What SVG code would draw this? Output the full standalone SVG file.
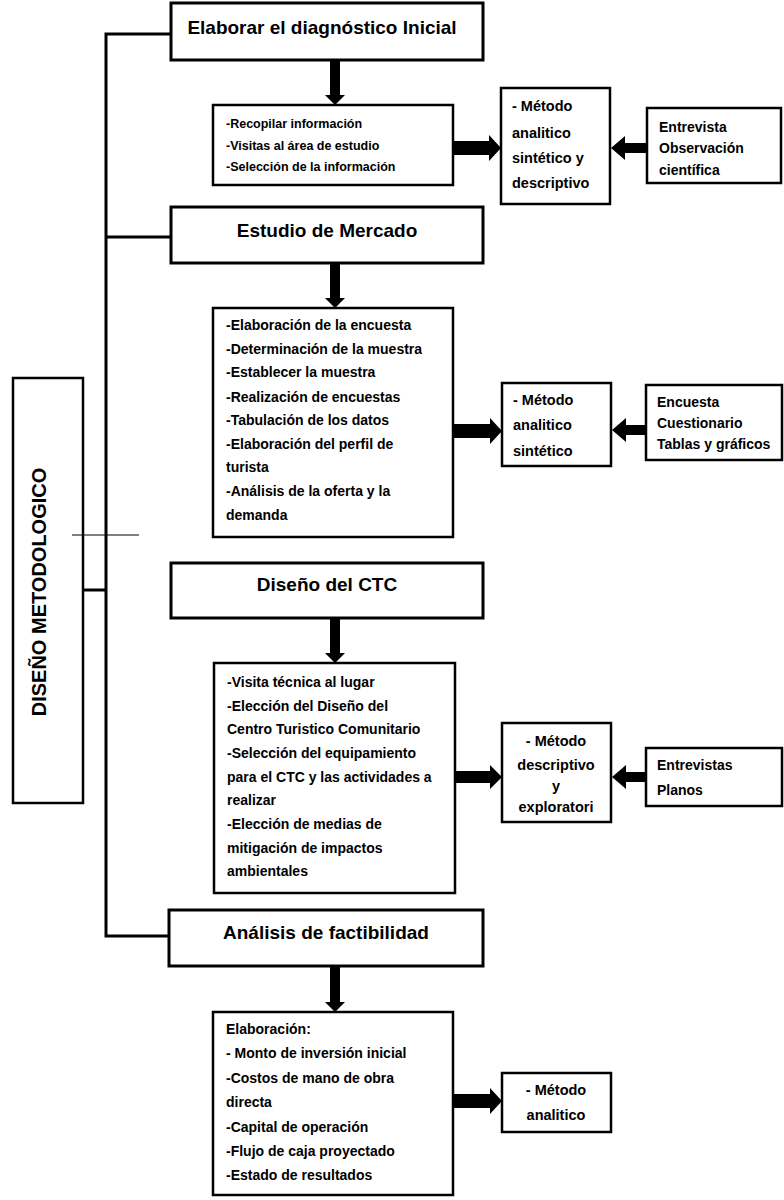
<svg xmlns="http://www.w3.org/2000/svg" width="784" height="1200" viewBox="0 0 784 1200">
<style>
.box{fill:#fff;stroke:#000;stroke-width:2.5}
.hbox{fill:#fff;stroke:#000;stroke-width:3}
.ln{stroke:#000;stroke-width:3;fill:none}
.thin{stroke:#000;stroke-width:1;fill:none}
.arr{fill:#000}
text{font-family:"Liberation Sans",Arial,sans-serif;font-weight:bold;fill:#000}
.h{font-size:19px;text-anchor:middle}
.t{font-size:14px}
.s{font-size:12.5px}
.m{font-size:14.5px}
.mc{font-size:14.5px;text-anchor:middle}
</style>
<rect width="784" height="1200" fill="#fff"/>
<g id="connectors">
<polyline class="ln" points="171,34 106,34 106,936 170,936"/>
<line class="ln" x1="106" y1="237" x2="171" y2="237"/>
<line class="ln" x1="83" y1="590" x2="106" y2="590"/>
<polygon class="arr" points="330,60 340,60 340,95 345,95 335,105 325,95 330,95"/>
<polygon class="arr" points="330,263 340,263 340,298 345,298 335,308 325,298 330,298"/>
<polygon class="arr" points="330,618 340,618 340,653 345,653 335,663 325,653 330,653"/>
<polygon class="arr" points="330,966 340,966 340,1002 345,1002 335,1012 325,1002 330,1002"/>
<polygon class="arr" points="453,141 489,141 489,135 501,148 489,161 489,155 453,155"/>
<polygon class="arr" points="453,424 490,424 490,418 502,431 490,444 490,438 453,438"/>
<polygon class="arr" points="455,771 490,771 490,765 502,777 490,789 490,783 455,783"/>
<polygon class="arr" points="453,1094 490,1094 490,1088 502,1101 490,1114 490,1108 453,1108"/>
<polygon class="arr" points="647,143 625,143 625,136 611,148 625,160 625,153 647,153"/>
<polygon class="arr" points="646,425 626,425 626,418 612,430 626,442 626,435 646,435"/>
<polygon class="arr" points="646,772 626,772 626,765 612,777 626,789 626,782 646,782"/>
</g>
<g id="n-diseno">
<rect class="box" x="13" y="378" width="70" height="425"/>
<text style="font-size:20px;text-anchor:middle" transform="translate(46,592) rotate(-90)">DISEÑO METODOLOGICO</text>
</g>
<line class="thin" x1="72" y1="535" x2="139" y2="535"/>
<g id="n-h1">
<rect class="hbox" x="171" y="3" width="312" height="57"/>
<text class="h" x="322" y="34">Elaborar el diagnóstico Inicial</text>
</g>
<g id="n-b1">
<rect class="box" x="213" y="105" width="240" height="80"/>
<text class="s" x="226" y="128">-Recopilar información</text>
<text class="s" x="226" y="150">-Visitas al área de estudio</text>
<text class="s" x="226" y="171">-Selección de la información</text>
</g>
<g id="n-m1">
<rect class="box" x="501" y="88" width="109" height="116"/>
<text class="m" x="512" y="111">- Método</text>
<text class="m" x="512" y="138">analitico</text>
<text class="m" x="512" y="163">sintético y</text>
<text class="m" x="512" y="188">descriptivo</text>
</g>
<g id="n-e1">
<rect class="box" x="647" y="108" width="134" height="75"/>
<text class="t" x="659" y="132">Entrevista</text>
<text class="t" x="659" y="153">Observación</text>
<text class="t" x="659" y="175">científica</text>
</g>
<g id="n-h2">
<rect class="hbox" x="171" y="207" width="312" height="56"/>
<text class="h" x="327" y="237">Estudio de Mercado</text>
</g>
<g id="n-b2">
<rect class="box" x="213" y="308" width="240" height="229"/>
<text class="t" x="226" y="330">-Elaboración de la encuesta</text>
<text class="t" x="226" y="354">-Determinación de la muestra</text>
<text class="t" x="226" y="377">-Establecer la muestra</text>
<text class="t" x="226" y="402">-Realización de encuestas</text>
<text class="t" x="226" y="425">-Tabulación de los datos</text>
<text class="t" x="226" y="449">-Elaboración del perfil de</text>
<text class="t" x="226" y="472">turista</text>
<text class="t" x="226" y="496">-Análisis de la oferta y la</text>
<text class="t" x="226" y="520">demanda</text>
</g>
<g id="n-m2">
<rect class="box" x="502" y="383" width="109" height="83"/>
<text class="m" x="513" y="405">- Método</text>
<text class="m" x="513" y="430">analitico</text>
<text class="m" x="513" y="456">sintético</text>
</g>
<g id="n-e2">
<rect class="box" x="646" y="385" width="136" height="75"/>
<text class="t" x="657" y="407">Encuesta</text>
<text class="t" x="657" y="428">Cuestionario</text>
<text class="t" x="657" y="449">Tablas y gráficos</text>
</g>
<g id="n-h3">
<rect class="hbox" x="171" y="563" width="312" height="55"/>
<text class="h" x="327" y="591">Diseño del CTC</text>
</g>
<g id="n-b3">
<rect class="box" x="214" y="663" width="241" height="230"/>
<text class="t" x="227" y="687">-Visita técnica al lugar</text>
<text class="t" x="227" y="711">-Elección del Diseño del</text>
<text class="t" x="227" y="734">Centro Turistico Comunitario</text>
<text class="t" x="227" y="758">-Selección del equipamiento</text>
<text class="t" x="227" y="782">para el CTC y las actividades a</text>
<text class="t" x="227" y="805">realizar</text>
<text class="t" x="227" y="829">-Elección de medias de</text>
<text class="t" x="227" y="853">mitigación de impactos</text>
<text class="t" x="227" y="876">ambientales</text>
</g>
<g id="n-m3">
<rect class="box" x="502" y="723" width="109" height="99"/>
<text class="mc" x="556" y="746">- Método</text>
<text class="mc" x="556" y="770">descriptivo</text>
<text class="mc" x="556" y="791">y</text>
<text class="mc" x="556" y="812">exploratori</text>
</g>
<g id="n-e3">
<rect class="box" x="646" y="748" width="136" height="58"/>
<text class="t" x="657" y="770">Entrevistas</text>
<text class="t" x="657" y="795">Planos</text>
</g>
<g id="n-h4">
<rect class="hbox" x="169" y="910" width="314" height="56"/>
<text class="h" x="326" y="939">Análisis de factibilidad</text>
</g>
<g id="n-b4">
<rect class="box" x="213" y="1012" width="240" height="183"/>
<text class="t" x="226" y="1034">Elaboración:</text>
<text class="t" x="226" y="1058">- Monto de inversión inicial</text>
<text class="t" x="226" y="1083">-Costos de mano de obra</text>
<text class="t" x="226" y="1107">directa</text>
<text class="t" x="226" y="1132">-Capital de operación</text>
<text class="t" x="226" y="1156">-Flujo de caja proyectado</text>
<text class="t" x="226" y="1180">-Estado de resultados</text>
</g>
<g id="n-m4">
<rect class="box" x="502" y="1073" width="109" height="59"/>
<text class="mc" x="556" y="1095">- Método</text>
<text class="mc" x="556" y="1120">analitico</text>
</g>
</svg>
